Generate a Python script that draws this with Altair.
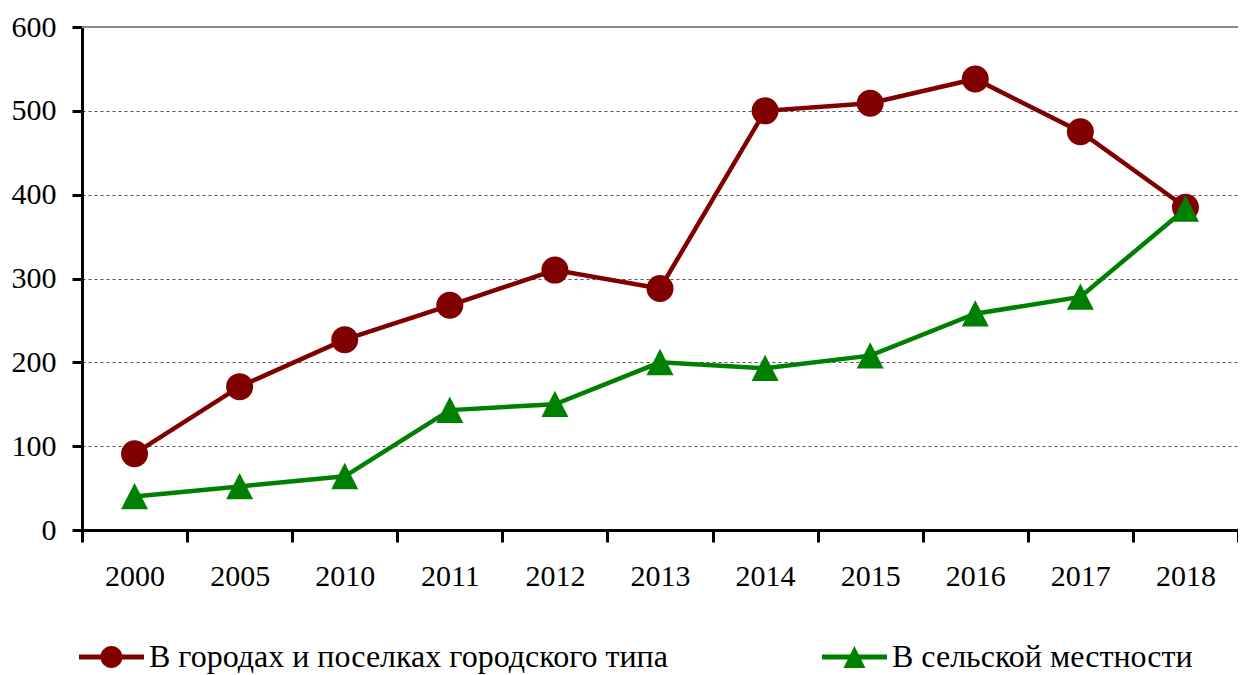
import altair as alt
import pandas as pd

years = ["2000", "2005", "2010", "2011", "2012", "2013", "2014", "2015", "2016", "2017", "2018"]
urban = [91, 171, 227, 268, 310, 288, 500, 509, 538, 475, 385]
rural = [40, 52, 64, 143, 150, 200, 193, 208, 258, 278, 383]
series_names = ["В городах и поселках городского типа", "В сельской местности"]
series_colors = ["#800000", "#008000"]
y_ticks = [0, 100, 200, 300, 400, 500, 600]

df = pd.DataFrame({
    "year": years * 2,
    "value": urban + rural,
    "series": [series_names[0]] * len(years) + [series_names[1]] * len(years),
})

FONT = "Liberation Serif"

# legend symbols: line + marker (custom paths)
leg_circle = ("M -1 -0.23 L 4.91 -0.23 L 4.91 0.23 L -1 0.23 Z "
              "M 2.95 0 A 1 1 0 1 1 0.95 0 A 1 1 0 1 1 2.95 0 Z")
leg_tri = ("M -1 -0.23 L 4.91 -0.23 L 4.91 0.23 L -1 0.23 Z "
           "M 1.95 -1 L 2.95 1 L 0.95 1 Z")
tri_path = "M 0 -1 L 1 0.95 L -1 0.95 Z"

x_enc = alt.X("year:N", sort=years,
              scale=alt.Scale(type="band", paddingInner=0, paddingOuter=0),
              axis=alt.Axis(title=None, labelAngle=0, tickBand="extent", tickSize=12,
                            tickWidth=3, tickColor="black", domainColor="black",
                            domainWidth=3, labelFont=FONT, labelFontSize=30,
                            labelColor="black", labelPadding=19, grid=False))
y_enc = alt.Y("value:Q",
              scale=alt.Scale(domain=[0, 600], nice=False),
              axis=alt.Axis(title=None, values=y_ticks, tickSize=10, tickWidth=3,
                            tickColor="black", domainColor="black", domainWidth=3,
                            labelFont=FONT, labelFontSize=30, labelColor="black",
                            labelPadding=16, grid=True, gridColor="#555",
                            gridDash=[3, 3], gridWidth=1))
color_scale = alt.Scale(domain=series_names, range=series_colors)

legend_props = dict(title=None, orient="none", legendX=-8, legendY=614,
                    direction="horizontal", columns=2, columnPadding=149,
                    labelFont=FONT, labelFontSize=32, labelColor="black",
                    labelOffset=43, labelLimit=0, symbolSize=484,
                    symbolStrokeWidth=0, symbolOpacity=1, padding=0)

base = alt.Chart(df)
urban_df = base.transform_filter(alt.datum.series == series_names[0])
rural_df = base.transform_filter(alt.datum.series == series_names[1])

top_rule = alt.Chart(df).mark_rule(color="#888", strokeWidth=2).encode(y=alt.datum(600))

urban_line = urban_df.mark_line(strokeWidth=4.5, color=series_colors[0]).encode(x=x_enc, y=y_enc)
rural_line = rural_df.mark_line(strokeWidth=4.5, color=series_colors[1]).encode(x=x_enc, y=y_enc)
urban_pts = urban_df.mark_point(filled=True, shape="circle", size=729, opacity=1, strokeWidth=0,
                                color=series_colors[0]).encode(x=x_enc, y=y_enc)
rural_pts = rural_df.mark_point(filled=True, shape=tri_path, size=729, opacity=1, strokeWidth=0,
                                color=series_colors[1]).encode(x=x_enc, y=y_enc)

# invisible layer that only provides the legend (line + marker symbols)
legend_layer = base.mark_point(filled=True, opacity=0, strokeWidth=0).encode(
    x=x_enc, y=y_enc,
    color=alt.Color("series:N", scale=color_scale, legend=alt.Legend(**legend_props)),
    shape=alt.Shape("series:N",
                    scale=alt.Scale(domain=series_names, range=[leg_circle, leg_tri]),
                    legend=alt.Legend(**legend_props)),
)

chart = alt.layer(legend_layer, top_rule, urban_line, urban_pts, rural_line, rural_pts).properties(
    width=1156, height=503,
    autosize=alt.AutoSizeParams(type="none"),
    padding={"left": 74, "top": 19, "right": 0, "bottom": 145},
).configure_view(stroke=None).configure(background="white")

chart.save("out.html", embed_options={"renderer": "svg", "actions": False})
